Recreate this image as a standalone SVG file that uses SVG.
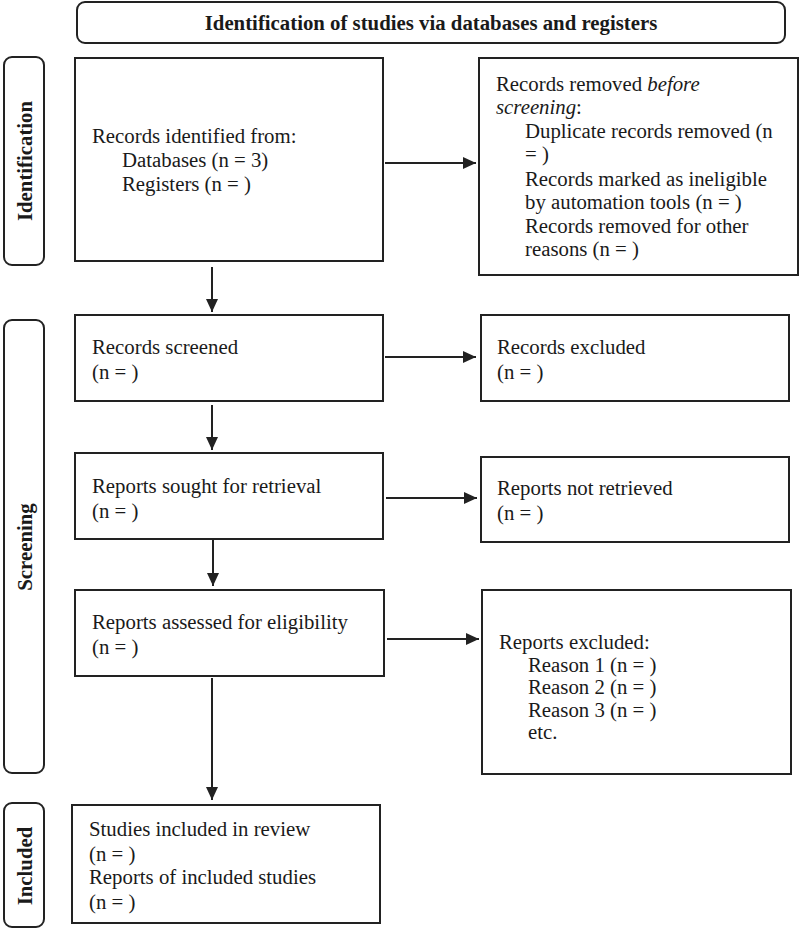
<svg xmlns="http://www.w3.org/2000/svg" width="800" height="929" viewBox="0 0 800 929">
<style>
.box{fill:#fff;stroke:#222;stroke-width:2}
.t{font-family:"Liberation Serif","Times New Roman",serif;font-size:20.8px;fill:#1a1a1a}
.b{font-weight:bold}
.c{stroke:#222;stroke-width:2;fill:none}
</style>
<defs>
<marker id="ah" markerWidth="14" markerHeight="14" refX="13" refY="6" orient="auto" markerUnits="userSpaceOnUse">
<path d="M0,0 L13,6 L0,12 Z" fill="#222"/>
</marker>
</defs>
<rect width="800" height="929" fill="#fff"/>
<g id="title">
<rect class="box" x="77" y="2" width="708" height="41" rx="8"/>
<text class="t b" x="431" y="30" text-anchor="middle">Identification of studies via databases and registers</text>
</g>
<g id="phase-identification">
<rect class="box" x="4" y="57" width="40" height="208" rx="8"/>
<text class="t b" transform="translate(32,161) rotate(-90)" text-anchor="middle">Identification</text>
</g>
<g id="phase-screening">
<rect class="box" x="4" y="320" width="40" height="453" rx="8"/>
<text class="t b" transform="translate(32,547) rotate(-90)" text-anchor="middle">Screening</text>
</g>
<g id="phase-included">
<rect class="box" x="4" y="803" width="40" height="124" rx="8"/>
<text class="t b" transform="translate(32,866) rotate(-90)" text-anchor="middle">Included</text>
</g>
<g id="records-identified">
<rect class="box" x="75" y="58" width="308" height="203"/>
<text class="t" x="92" y="143">Records identified from:</text>
<text class="t" x="122" y="167">Databases (n = 3)</text>
<text class="t" x="122" y="191">Registers (n = )</text>
</g>
<g id="records-removed">
<rect class="box" x="479" y="58" width="319" height="217"/>
<text class="t" x="496" y="91">Records removed <tspan font-style="italic">before</tspan></text>
<text class="t" x="496" y="114"><tspan font-style="italic">screening</tspan>:</text>
<text class="t" x="525" y="138">Duplicate records removed (n</text>
<text class="t" x="525" y="161">= )</text>
<text class="t" x="525" y="186">Records marked as ineligible</text>
<text class="t" x="525" y="209">by automation tools (n = )</text>
<text class="t" x="525" y="233">Records removed for other</text>
<text class="t" x="525" y="256">reasons (n = )</text>
</g>
<g id="records-screened">
<rect class="box" x="75" y="315" width="308" height="86"/>
<text class="t" x="92" y="354">Records screened</text>
<text class="t" x="92" y="379">(n = )</text>
</g>
<g id="records-excluded">
<rect class="box" x="481" y="315" width="308" height="86"/>
<text class="t" x="497" y="354">Records excluded</text>
<text class="t" x="497" y="379">(n = )</text>
</g>
<g id="reports-sought">
<rect class="box" x="75" y="453" width="308" height="86"/>
<text class="t" x="92" y="493">Reports sought for retrieval</text>
<text class="t" x="92" y="518">(n = )</text>
</g>
<g id="reports-not-retrieved">
<rect class="box" x="481" y="457" width="308" height="85"/>
<text class="t" x="497" y="495">Reports not retrieved</text>
<text class="t" x="497" y="520">(n = )</text>
</g>
<g id="reports-assessed">
<rect class="box" x="75" y="590" width="309" height="86"/>
<text class="t" x="92" y="629">Reports assessed for eligibility</text>
<text class="t" x="92" y="654">(n = )</text>
</g>
<g id="reports-excluded">
<rect class="box" x="482" y="590" width="309" height="184"/>
<text class="t" x="499" y="649">Reports excluded:</text>
<text class="t" x="528" y="672">Reason 1 (n = )</text>
<text class="t" x="528" y="694">Reason 2 (n = )</text>
<text class="t" x="528" y="717">Reason 3 (n = )</text>
<text class="t" x="528" y="739">etc.</text>
</g>
<g id="studies-included">
<rect class="box" x="72" y="805" width="308" height="118"/>
<text class="t" x="89" y="836">Studies included in review</text>
<text class="t" x="89" y="861">(n = )</text>
<text class="t" x="89" y="884">Reports of included studies</text>
<text class="t" x="89" y="909">(n = )</text>
</g>
<g id="connectors">
<line class="c" x1="385" y1="163" x2="476" y2="163" marker-end="url(#ah)"/>
<line class="c" x1="212" y1="267" x2="212" y2="312" marker-end="url(#ah)"/>
<line class="c" x1="385" y1="357" x2="476" y2="357" marker-end="url(#ah)"/>
<line class="c" x1="212" y1="405" x2="212" y2="450" marker-end="url(#ah)"/>
<line class="c" x1="386" y1="498" x2="477" y2="498" marker-end="url(#ah)"/>
<line class="c" x1="213" y1="539" x2="213" y2="586" marker-end="url(#ah)"/>
<line class="c" x1="387" y1="639" x2="479" y2="639" marker-end="url(#ah)"/>
<line class="c" x1="212" y1="678" x2="212" y2="800" marker-end="url(#ah)"/>
</g>
</svg>
